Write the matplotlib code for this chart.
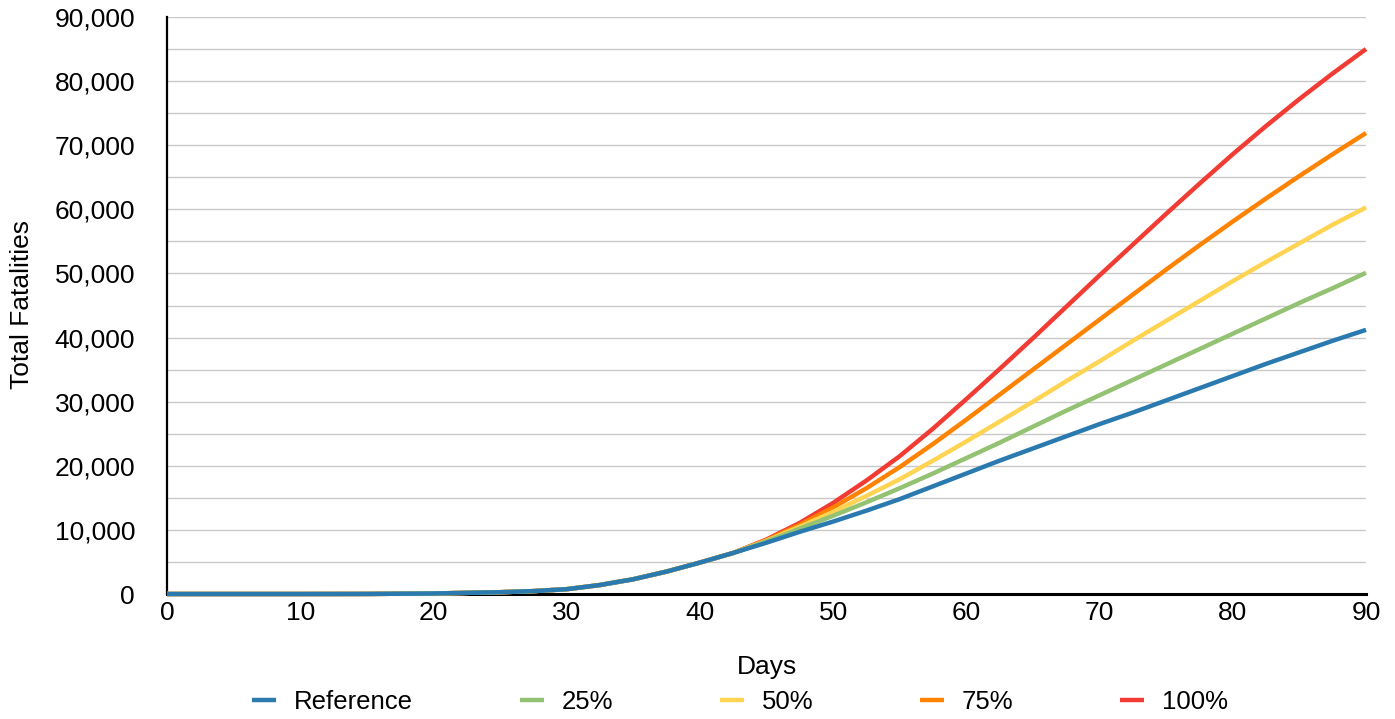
import matplotlib
matplotlib.use("Agg")
import matplotlib.pyplot as plt
from matplotlib.ticker import FuncFormatter, MultipleLocator

plt.rcParams['font.family'] = ['Liberation Sans', 'DejaVu Sans']

# days on the x axis
days = [0, 5, 10, 15, 20, 25, 27.5, 30, 32.5, 35, 37.5, 40, 42.5, 45, 47.5,
        50, 52.5, 55, 57.5, 60, 62.5, 65, 67.5, 70, 72.5, 75, 77.5, 80, 82.5,
        85, 87.5, 90]

# shared early part (days 0 .. 42.5)
early = [0, 0, 0, 10, 80, 280, 450, 750, 1400, 2300, 3500, 4900, 6400]

reference = early + [8000, 9700, 11300, 13000, 14800, 16800, 18800, 20800,
                     22700, 24600, 26500, 28300, 30200, 32100, 34000, 35900,
                     37700, 39500, 41200]
pct25 = early + [8200, 10200, 12200, 14300, 16500, 18800, 21200, 23600,
                 26100, 28600, 31000, 33400, 35800, 38200, 40600, 43000,
                 45400, 47700, 50100]
pct50 = early + [8300, 10500, 12800, 15300, 17900, 20800, 23800, 26900,
                 30000, 33200, 36300, 39500, 42600, 45700, 48800, 51800,
                 54700, 57600, 60300]
pct75 = early + [8400, 10800, 13500, 16500, 19800, 23400, 27200, 31100,
                 35000, 38900, 42800, 46700, 50600, 54400, 58100, 61700,
                 65200, 68600, 71900]
pct100 = early + [8500, 11100, 14200, 17700, 21500, 25800, 30400, 35100,
                  39900, 44800, 49700, 54500, 59300, 64000, 68600, 73000,
                  77200, 81200, 85000]

labels = ["Reference", "25%", "50%", "75%", "100%"]
series = [reference, pct25, pct50, pct75, pct100]
colors = ["#2a7ab0", "#93c272", "#ffd452", "#ff8200", "#f23b33"]

fig = plt.figure(figsize=(13.95, 7.19), dpi=100)
ax = fig.add_axes([167 / 1395, 1 - 594 / 719, 1199 / 1395, 577 / 719])

handles = []
for i, (lab, vals, col) in enumerate(zip(labels, series, colors)):
    h, = ax.plot(days, vals, color=col, lw=3.2, label=lab,
                 zorder=10 - i, clip_on=False, solid_capstyle='butt')
    handles.append(h)

ax.set_xlim(0, 90)
ax.set_ylim(0, 90000)
ax.xaxis.set_major_locator(MultipleLocator(10))
ax.yaxis.set_major_locator(MultipleLocator(10000))
ax.yaxis.set_minor_locator(MultipleLocator(5000))
ax.yaxis.set_major_formatter(FuncFormatter(lambda v, p: f"{int(v):,}"))

ax.grid(axis='y', which='both', color='#c8c8c8', lw=1.0, zorder=0)
ax.set_axisbelow(True)
for s in ['top', 'right']:
    ax.spines[s].set_visible(False)
ax.spines['left'].set_linewidth(1.6)
ax.spines['bottom'].set_linewidth(2.2)
ax.spines['left'].set_zorder(3)
ax.spines['bottom'].set_zorder(3)

ax.tick_params(axis='both', which='both', length=0, labelsize=19)
ax.tick_params(axis='y', pad=23)
ax.tick_params(axis='x', pad=5)

fig.text(22 / 1395, 1 - 305 / 719, "Total Fatalities", rotation=90,
         ha='center', va='center', fontsize=19)
fig.text(767 / 1395, 1 - 667 / 719, "Days", ha='center', va='center',
         fontsize=19)

fig.legend(handles, labels, loc='center', ncol=5, frameon=False,
           bbox_to_anchor=(740 / 1395, 1 - 702 / 719), fontsize=18.5,
           handlelength=0.93, handletextpad=0.7, columnspacing=4.15)

fig.savefig("out.png", dpi=100)
